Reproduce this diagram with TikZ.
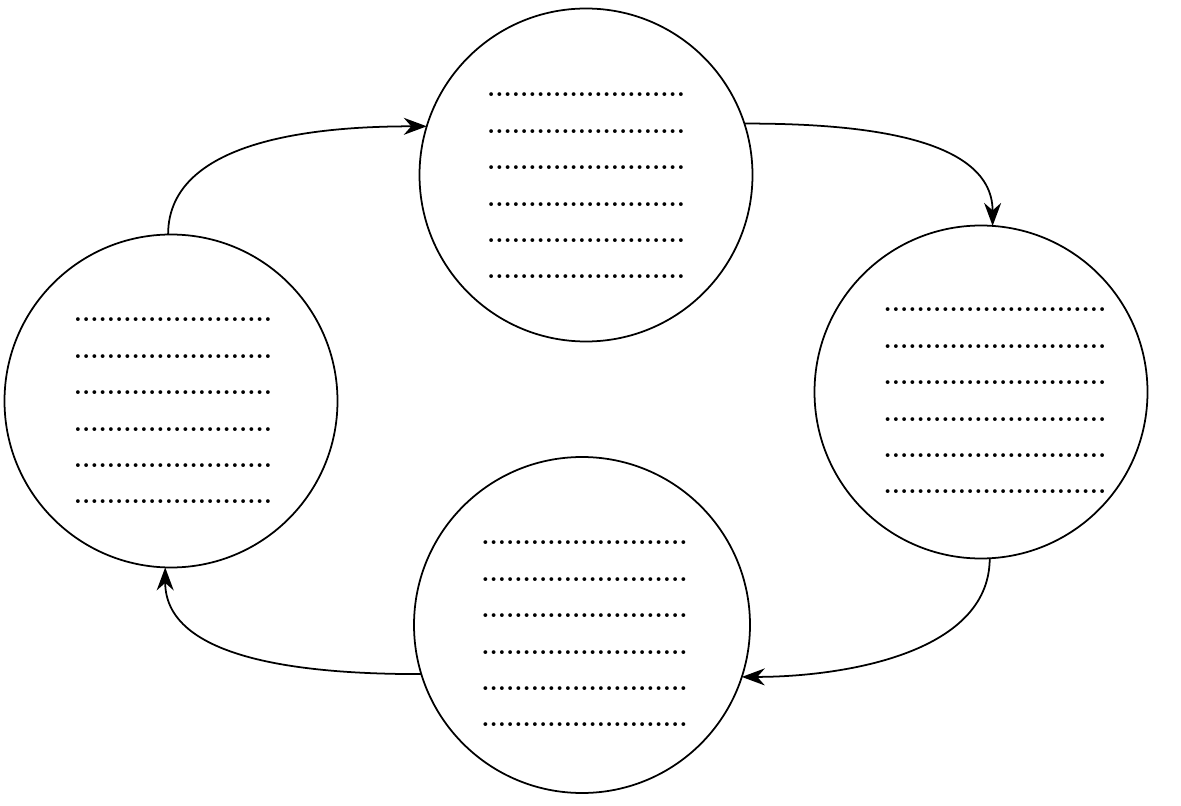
\documentclass[tikz,border=0pt]{standalone}
\usepackage{tikz}
\usetikzlibrary{arrows.meta}

\begin{document}
\begin{tikzpicture}[
    every node/.style={inner sep=0pt, outer sep=0pt},
    stage/.style={
        circle,
        draw,
        line width=1pt,
        minimum size=6.66cm
    },
    blanks/.style={
        align=center,
        font=\fontsize{15}{20.7}\selectfont\bfseries
    },
    arrow/.style={
        -{Stealth[length=4.6mm,width=3.4mm]},
        line width=1pt
    }
]

\useasboundingbox (0,0) rectangle (23.62,16.1);

% =========================================================
% FOUR STAGES
% =========================================================

\node[stage] (top)    at (11.72,12.60) {};
\node[stage] (right)  at (19.62, 8.26) {};
\node[stage, minimum size=6.72cm] (bottom) at (11.64, 3.60) {};
\node[stage] (left)   at ( 3.42, 8.08) {};


% =========================================================
% BLANK LINES TO FILL IN
% =========================================================

\node[blanks] (top-lines) at ([yshift=-0.22cm]top.center) {
........................\\
........................\\
........................\\
........................\\
........................\\
........................
};

\node[blanks] (right-lines) at ([xshift=0.28cm,yshift=-0.18cm]right.center) {
...........................\\
...........................\\
...........................\\
...........................\\
...........................\\
...........................
};

\node[blanks] (bottom-lines) at ([xshift=0.05cm,yshift=-0.18cm]bottom.center) {
.........................\\
.........................\\
.........................\\
.........................\\
.........................\\
.........................
};

\node[blanks] (left-lines) at ([xshift=0.04cm,yshift=-0.2cm]left.center) {
........................\\
........................\\
........................\\
........................\\
........................\\
........................
};


% =========================================================
% CYCLE
% =========================================================

\draw[arrow]
    (left.91) to[out=90,in=180,looseness=0.9] (top.163);

\draw[arrow]
    (top.18) to[out=0,in=90,looseness=0.9] (right.86);

\draw[arrow]
    (right.-87) to[out=-90,in=0,looseness=0.9] (bottom.-18);

\draw[arrow]
    (bottom.-163) to[out=180,in=-90,looseness=0.9] (left.-92);

\end{tikzpicture}
\end{document}
